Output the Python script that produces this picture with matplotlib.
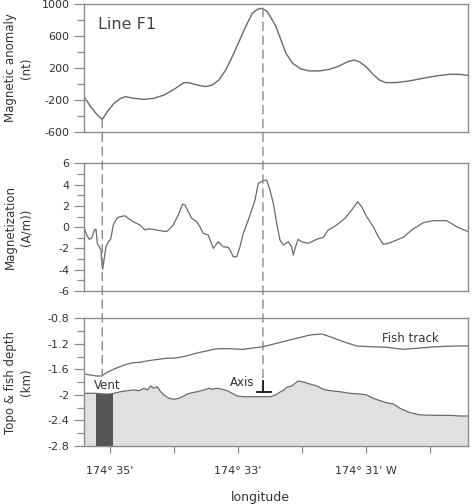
import matplotlib
matplotlib.use('Agg')
from matplotlib import pyplot
from matplotlib.patches import ConnectionPatch
from matplotlib.ticker import MultipleLocator, FixedLocator, FuncFormatter

# longitude in minutes west of 174 deg
anom_lon = [35.406, 35.302, 35.198, 35.120, 35.042, 34.938, 34.833, 34.755, 34.625,
            34.469, 34.313, 34.156, 34.000, 33.844, 33.766, 33.636, 33.505, 33.402,
            33.297, 33.192, 33.089, 32.984, 32.880, 32.777, 32.698, 32.620, 32.542,
            32.464, 32.406, 32.328, 32.250, 32.145, 32.016, 31.886, 31.730, 31.573,
            31.417, 31.286, 31.183, 31.105, 31.000, 30.895, 30.792, 30.688, 30.531,
            30.323, 30.114, 29.906, 29.698, 29.542, 29.406]
anom_nt = [-158, -283, -388, -442, -346, -242, -179, -158, -179,
           -192, -179, -138, -67, 17, 17, -13, -33, -13,
           50, 175, 342, 529, 717, 883, 933, 946, 904,
           800, 717, 550, 383, 258, 188, 163, 163, 183,
           225, 279, 300, 279, 217, 125, 50, 17, 17,
           38, 71, 100, 121, 121, 108]

mag_lon = [35.406, 35.364, 35.323, 35.286, 35.245, 35.219, 35.198, 35.167, 35.141,
           35.125, 35.114, 35.094, 35.063, 35.027, 34.989, 34.948, 34.895, 34.844,
           34.766, 34.714, 34.636, 34.531, 34.453, 34.402, 34.323, 34.219, 34.114,
           34.011, 33.933, 33.864, 33.828, 33.777, 33.723, 33.645, 33.594, 33.542,
           33.464, 33.386, 33.308, 33.230, 33.152, 33.125, 33.073, 33.020, 32.969,
           32.917, 32.839, 32.786, 32.734, 32.683, 32.605, 32.552, 32.500, 32.448,
           32.395, 32.344, 32.292, 32.214, 32.161, 32.136, 32.083, 32.058, 32.005,
           31.902, 31.770, 31.667, 31.589, 31.458, 31.328, 31.223, 31.130, 31.067,
           30.989, 30.886, 30.808, 30.730, 30.652, 30.520, 30.417, 30.286, 30.105,
           29.948, 29.739, 29.583, 29.406]
mag_am = [-0.02, -0.74, -1.14, -1.05, -0.27, -0.2, -1.52, -1.84, -2.15,
          -3.56, -3.96, -3.09, -1.84, -1.37, -1.14, 0.2, 0.83, 0.98,
          1.07, 0.83, 0.51, 0.2, -0.27, -0.17, -0.2, -0.33, -0.42,
          0.2, 1.14, 2.17, 2.08, 1.45, 0.83, 0.51, 0.04, -0.58,
          -0.74, -1.99, -1.37, -1.84, -1.9, -2.15, -2.78, -2.78, -1.84,
          -0.58, 0.67, 1.61, 2.55, 4.12, 4.37, 4.43, 3.49, 2.24,
          0.36, -1.21, -1.68, -1.37, -1.84, -2.62, -1.52, -1.14, -1.37,
          -1.52, -1.14, -0.95, -0.27, 0.2, 0.83, 1.61, 2.39, 1.92,
          0.98, 0.04, -0.9, -1.61, -1.52, -1.21, -0.95, -0.27, 0.42,
          0.61, 0.61, 0.04, -0.42]

fish_lon = [35.406, 35.313, 35.208, 35.130, 35.052, 34.948, 34.844, 34.739, 34.636,
            34.531, 34.427, 34.323, 34.219, 34.114, 34.011, 33.906, 33.802, 33.698,
            33.594, 33.489, 33.386, 33.281, 33.125, 32.969, 32.917, 32.609, 32.395,
            32.083, 31.875, 31.693, 31.563, 31.355, 31.145, 30.938, 30.677, 30.417,
            30.208, 29.895, 29.583, 29.406]
fish_km = [-1.672, -1.688, -1.704, -1.704, -1.652, -1.599, -1.558, -1.52, -1.495,
           -1.49, -1.469, -1.453, -1.44, -1.426, -1.426, -1.411, -1.39, -1.359,
           -1.333, -1.312, -1.286, -1.276, -1.276, -1.286, -1.286, -1.245, -1.192,
           -1.113, -1.062, -1.046, -1.088, -1.166, -1.234, -1.245, -1.254, -1.286,
           -1.27, -1.245, -1.234, -1.234]

topo_lon = [35.406, 35.224, 35.094, 35.016, 34.938, 34.833, 34.730, 34.625, 34.547,
            34.469, 34.417, 34.364, 34.313, 34.261, 34.208, 34.156, 34.078, 34.000,
            33.922, 33.844, 33.792, 33.714, 33.636, 33.531, 33.453, 33.402, 33.323,
            33.245, 33.167, 33.089, 33.011, 32.906, 32.698, 32.489, 32.411, 32.333,
            32.281, 32.239, 32.161, 32.058, 31.980, 31.875, 31.770, 31.667, 31.563,
            31.406, 31.250, 31.094, 30.989, 30.886, 30.781, 30.677, 30.573, 30.469,
            30.313, 30.156, 29.895, 29.688, 29.531, 29.406]
topo_km = [-1.975, -1.975, -1.986, -1.986, -1.975, -1.95, -1.934, -1.923, -1.934,
           -1.896, -1.923, -1.86, -1.896, -1.871, -1.95, -2.001, -2.053, -2.069,
           -2.053, -2.017, -1.986, -1.965, -1.95, -1.923, -1.896, -1.912, -1.896,
           -1.912, -1.934, -1.975, -2.017, -2.028, -2.028, -2.028, -2.001, -1.95,
           -1.923, -1.881, -1.86, -1.782, -1.798, -1.829, -1.86, -1.912, -1.934,
           -1.95, -1.975, -1.986, -2.001, -2.053, -2.09, -2.122, -2.142, -2.21,
           -2.278, -2.314, -2.32, -2.32, -2.33, -2.33]

vent_lon = [35.214, 34.948]
vent_top = -1.98
axis_lon = 32.61
axis_mark = [-1.79, -1.96]
axis_bar = [32.708, 32.489]
vent_dash = [35.12, -442, -1.70]
axis_dash = [32.61, 946, -1.79]

anom_ticks = [-600, -200, 200, 600, 1000]
anom_minor = [-400, 0, 400, 800]
tick_lon = [35, 34, 33, 32, 31, 30]
tick_text = {35: "174° 35'", 33: "174° 33'", 31: "174° 31' W"}

LINE = '#6a6a6a'
SPINE = '#8c8c8c'
TEXT = '#333333'

pyplot.rcParams['font.family'] = 'DejaVu Sans'
pyplot.rcParams['axes.unicode_minus'] = False

fig = pyplot.figure(figsize=(4.73, 5.04), dpi=100)
ax1 = fig.add_axes([0.1776, 0.7381, 0.8118, 0.2540])
ax2 = fig.add_axes([0.1776, 0.4226, 0.8118, 0.2534])
ax3 = fig.add_axes([0.1776, 0.1151, 0.8118, 0.2534])

fmt = FuncFormatter(lambda v, p: '%g' % round(v, 3))

for ax in (ax1, ax2, ax3):
    ax.set_xlim(35.406, 29.406)
    for s in ax.spines.values():
        s.set_color(SPINE)
        s.set_linewidth(1.0)
    ax.tick_params(axis='y', which='major', length=7.5, width=0.9, color=SPINE,
                   labelsize=8, labelcolor=TEXT, pad=3)
    ax.tick_params(axis='y', which='minor', length=4.8, width=0.9, color=SPINE)

ax1.plot(anom_lon, anom_nt, color=LINE, lw=1.0)
ax1.set_ylim(-600, 1000)
ax1.yaxis.set_major_locator(FixedLocator(anom_ticks))
ax1.yaxis.set_minor_locator(FixedLocator(anom_minor))
ax1.set_ylabel('Magnetic anomaly\n(nt)', fontsize=8.5, color=TEXT, linespacing=1.3)
ax1.text(0.036, 0.836, 'Line F1', transform=ax1.transAxes, fontsize=11.5,
         color='#444444', va='center', ha='left')

ax2.plot(mag_lon, mag_am, color=LINE, lw=0.9)
ax2.set_ylim(-6, 6)
ax2.yaxis.set_major_locator(MultipleLocator(2))
ax2.yaxis.set_minor_locator(MultipleLocator(1))
ax2.set_ylabel('Magnetization\n(A/m))', fontsize=8.5, color=TEXT, linespacing=1.3)

for ax in (ax1, ax2):
    ax.tick_params(axis='x', which='both', bottom=False, labelbottom=False)

ax3.fill_between(topo_lon, topo_km, -2.8, color='#e0e0e0', lw=0)
ax3.plot(topo_lon, topo_km, color=LINE, lw=0.9)
ax3.fill_between(vent_lon, vent_top, -2.8, color='#555555', lw=0)
ax3.plot(fish_lon, fish_km, color=LINE, lw=0.9)
ax3.plot([axis_lon, axis_lon], axis_mark, color='#111111', lw=1.3)
ax3.plot(axis_bar, [axis_mark[1], axis_mark[1]], color='#111111', lw=1.3)
ax3.set_ylim(-2.8, -0.8)
ax3.yaxis.set_major_locator(MultipleLocator(0.4))
ax3.yaxis.set_minor_locator(MultipleLocator(0.2))
ax3.set_ylabel('Topo & fish depth\n(km)', fontsize=8.5, color=TEXT, linespacing=1.3)
ax3.set_xticks(tick_lon)
ax3.set_xticklabels([tick_text.get(t, '') for t in tick_lon])
ax3.tick_params(axis='x', length=5.3, width=0.9, color=SPINE, labelsize=8,
                labelcolor=TEXT, pad=9)
ax3.text(35.05, -1.86, 'Vent', fontsize=8.5, color=TEXT, ha='center', va='center')
ax3.text(32.93, -1.81, 'Axis', fontsize=8.5, color=TEXT, ha='center', va='center')
ax3.text(30.31, -1.124, 'Fish track', fontsize=8.5, color=TEXT, ha='center', va='center')

for ax in (ax1, ax2, ax3):
    ax.yaxis.set_major_formatter(fmt)
    ax.yaxis.set_label_coords(-0.133, 0.5)

fig.text(260 / 473, 1 - 497 / 504, 'longitude', fontsize=9, color=TEXT,
         ha='center', va='center')

for lon, top, bottom in (vent_dash, axis_dash):
    con = ConnectionPatch(xyA=(lon, top), coordsA=ax1.transData,
                          xyB=(lon, bottom), coordsB=ax3.transData,
                          color='#8a8a8a', lw=1.0, linestyle=(0, (6, 4)))
    fig.add_artist(con)

fig.savefig('out.png', dpi=100)
